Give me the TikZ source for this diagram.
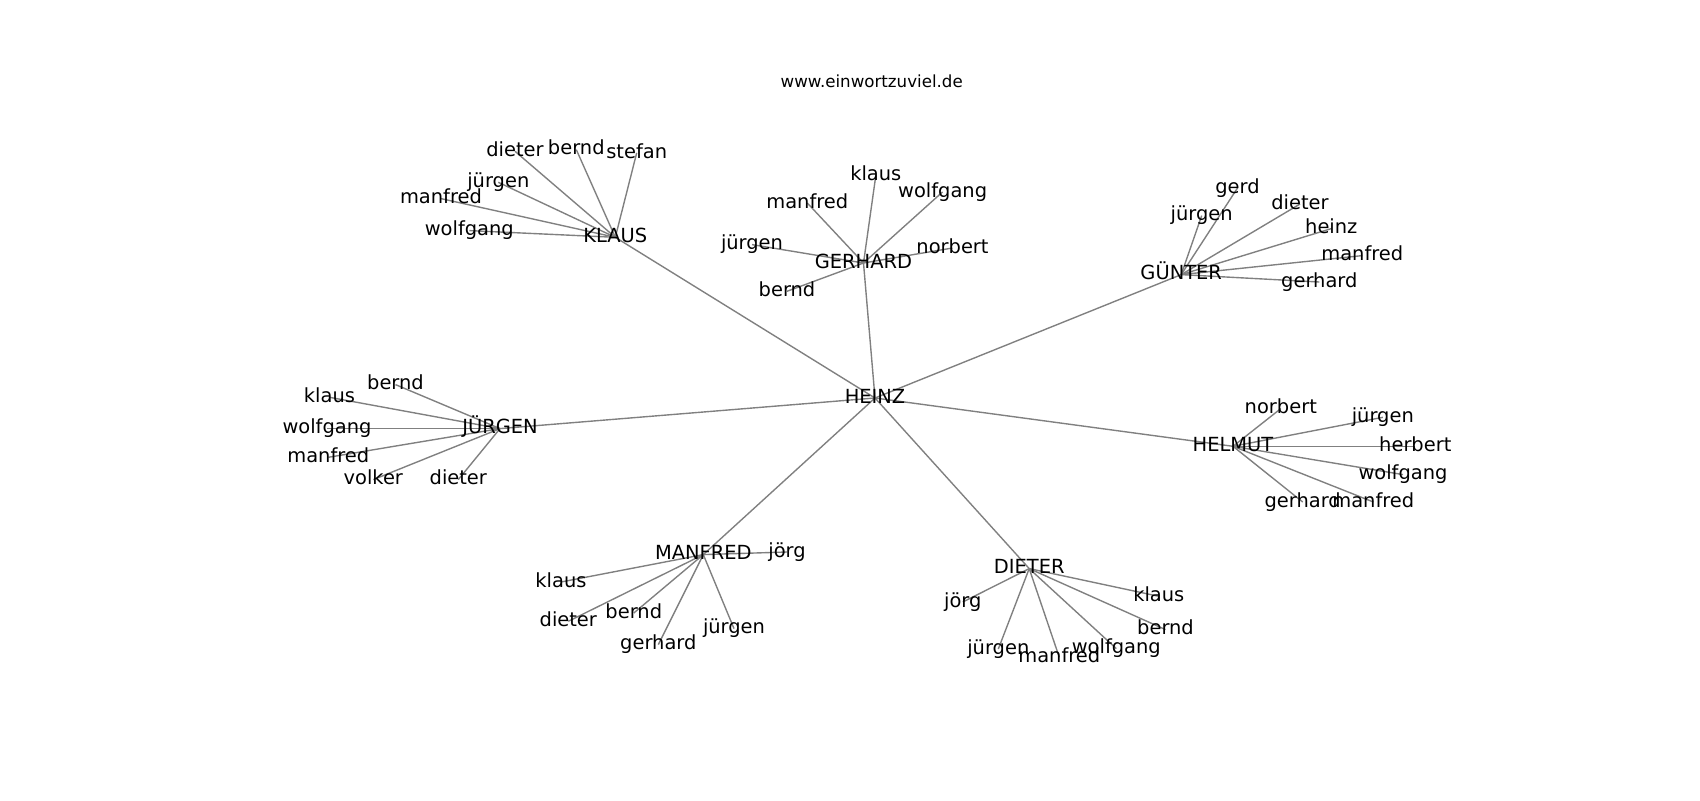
\documentclass[tikz,border=0pt]{standalone}
\usepackage{fontspec}
\setmainfont{DejaVu Sans}
\pgfdeclarelayer{bg}
\pgfsetlayers{bg,main}
\tikzset{
  lbl/.style={font=\fontsize{14}{17}\selectfont, inner sep=0pt, text height=10.64pt, text depth=2.91pt},
  edge/.style={draw=gray, line width=1pt},
  ttl/.style={font=\fontsize{12}{14}\selectfont, inner sep=0pt, anchor=base}
}
\begin{document}
\begin{tikzpicture}[x=0.72pt,y=-0.72pt]
\useasboundingbox (0,0) rectangle (1700,800);
\node[ttl] (title) at (871.7,87.7) {www.einwortzuviel.de};
% hubs
\node[lbl] (heinz) at (875,398) {HEINZ};
\node[lbl] (klaus) at (615.3,237.3) {KLAUS};
\node[lbl] (gerhard) at (863.5,263) {GERHARD};
\node[lbl] (guenter) at (1181.2,274.6) {GÜNTER};
\node[lbl] (juergen) at (500,428.6) {JÜRGEN};
\node[lbl] (helmut) at (1233,446.3) {HELMUT};
\node[lbl] (manfred) at (703.3,554.6) {MANFRED};
\node[lbl] (dieter) at (1029.2,568.6) {DIETER};
% KLAUS leaves
\node[lbl] (kdieter) at (515,151.3) {dieter};
\node[lbl] (kbernd) at (576.3,149.6) {bernd};
\node[lbl] (kstefan) at (636.7,152.9) {stefan};
\node[lbl] (kjuergen) at (498.3,182.3) {jürgen};
\node[lbl] (kmanfred) at (441,198.6) {manfred};
\node[lbl] (kwolfgang) at (469.3,230.6) {wolfgang};
% GERHARD leaves
\node[lbl] (gklaus) at (875.8,175.6) {klaus};
\node[lbl] (gwolfgang) at (942.6,191.9) {wolfgang};
\node[lbl] (gmanfred) at (807.3,203) {manfred};
\node[lbl] (gjuergen) at (752,244.6) {jürgen};
\node[lbl] (gnorbert) at (952.5,248) {norbert};
\node[lbl] (gbernd) at (787,291.3) {bernd};
% GUENTER leaves
\node[lbl] (ugerd) at (1237.5,188) {gerd};
\node[lbl] (udieter) at (1300,204) {dieter};
\node[lbl] (ujuergen) at (1201.7,215.6) {jürgen};
\node[lbl] (uheinz) at (1331.3,228.6) {heinz};
\node[lbl] (umanfred) at (1362.3,255.6) {manfred};
\node[lbl] (ugerhard) at (1319.3,282) {gerhard};
% JUERGEN leaves
\node[lbl] (jbernd) at (395.5,384.6) {bernd};
\node[lbl] (jklaus) at (329.5,397.3) {klaus};
\node[lbl] (jwolfgang) at (327,428.6) {wolfgang};
\node[lbl] (jmanfred) at (328.3,457.3) {manfred};
\node[lbl] (jvolker) at (373.3,479.6) {volker};
\node[lbl] (jdieter) at (458.3,479.6) {dieter};
% HELMUT leaves
\node[lbl] (hnorbert) at (1280.8,408.6) {norbert};
\node[lbl] (hjuergen) at (1382.8,417.3) {jürgen};
\node[lbl] (hherbert) at (1415.3,446.3) {herbert};
\node[lbl] (hwolfgang) at (1403,474.6) {wolfgang};
\node[lbl] (hgerhard) at (1302.7,502) {gerhard};
\node[lbl] (hmanfred) at (1373.3,502) {manfred};
% MANFRED leaves
\node[lbl] (mjoerg) at (787,552) {jörg};
\node[lbl] (mklaus) at (561,582) {klaus};
\node[lbl] (mdieter) at (568.3,621.3) {dieter};
\node[lbl] (mbernd) at (633.8,613) {bernd};
\node[lbl] (mjuergen) at (734,628.6) {jürgen};
\node[lbl] (mgerhard) at (658.3,644.6) {gerhard};
% DIETER leaves
\node[lbl] (djoerg) at (962.8,602) {jörg};
\node[lbl] (dklaus) at (1158.8,596.3) {klaus};
\node[lbl] (dbernd) at (1165.5,629.6) {bernd};
\node[lbl] (djuergen) at (998.3,649) {jürgen};
\node[lbl] (dmanfred) at (1059.3,657.3) {manfred};
\node[lbl] (dwolfgang) at (1116.3,648.6) {wolfgang};
\begin{pgfonlayer}{bg}
\foreach \a/\b in {heinz/klaus,heinz/gerhard,heinz/guenter,heinz/juergen,heinz/helmut,heinz/manfred,heinz/dieter,
  klaus/kdieter,klaus/kbernd,klaus/kstefan,klaus/kjuergen,klaus/kmanfred,klaus/kwolfgang,
  gerhard/gklaus,gerhard/gwolfgang,gerhard/gmanfred,gerhard/gjuergen,gerhard/gnorbert,gerhard/gbernd,
  guenter/ugerd,guenter/udieter,guenter/ujuergen,guenter/uheinz,guenter/umanfred,guenter/ugerhard,
  juergen/jbernd,juergen/jklaus,juergen/jwolfgang,juergen/jmanfred,juergen/jvolker,juergen/jdieter,
  helmut/hnorbert,helmut/hjuergen,helmut/hherbert,helmut/hwolfgang,helmut/hgerhard,helmut/hmanfred,
  manfred/mjoerg,manfred/mklaus,manfred/mdieter,manfred/mbernd,manfred/mjuergen,manfred/mgerhard,
  dieter/djoerg,dieter/dklaus,dieter/dbernd,dieter/djuergen,dieter/dmanfred,dieter/dwolfgang}
  \draw[edge] (\a.center) -- (\b.center);
\end{pgfonlayer}
\end{tikzpicture}
\end{document}
